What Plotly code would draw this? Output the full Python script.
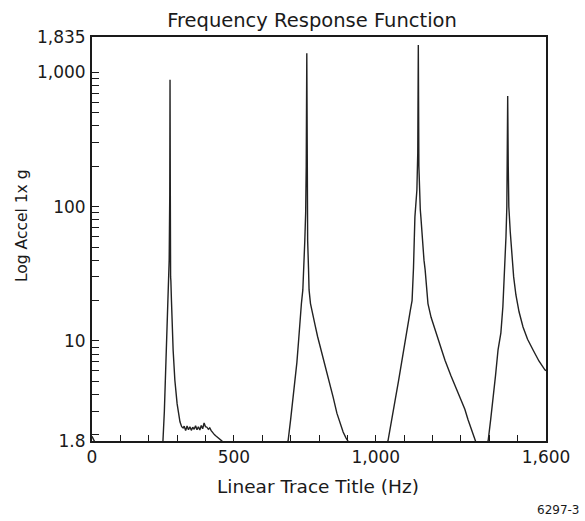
import math
import plotly.graph_objects as go

# ---- data ----
freq_hz = [
    0, 8, 30, 240,
    245, 250, 255, 261, 265, 268, 272, 274, 275, 276, 277, 278, 280, 282, 286, 292, 300, 310, 316, 321,
    325, 330, 335, 340, 345, 350, 355, 360, 365, 370, 375, 380, 385, 390, 395, 400, 405, 410,
    415, 420, 426, 432, 438, 444, 450, 458, 465, 600, 685,
    691, 700, 708, 715, 722, 728, 733, 738, 743, 747, 750, 753, 755, 757, 758.5, 760, 763, 765, 770,
    778, 786, 795, 803, 811, 820, 830, 839, 850, 863, 875, 885, 895, 902, 910, 1035,
    1043, 1055, 1068, 1080, 1092, 1103, 1114, 1122, 1128, 1133, 1138, 1142, 1145, 1148, 1150, 1152,
    1154, 1157, 1159, 1165, 1170, 1174, 1179, 1184, 1195, 1209, 1225, 1244, 1265, 1286, 1300, 1314,
    1325, 1336, 1343, 1350, 1360, 1390,
    1396, 1405, 1413, 1422, 1431, 1441, 1448, 1455, 1459, 1462, 1464, 1465, 1467, 1469, 1474, 1479,
    1486, 1494, 1505, 1519, 1535, 1554, 1575, 1596, 1600,
]
accel_g = [
    1.95, 1.8, 1.6, 1.6,
    1.7, 1.8, 3.0, 7.2, 12, 20, 40, 120, 880, 120, 30, 28, 20, 14, 8.5, 5.1, 3.4, 2.5, 2.3, 2.25,
    2.32, 2.15, 2.33, 2.18, 2.3, 2.16, 2.28, 2.2, 2.34, 2.18, 2.3, 2.17, 2.35, 2.22, 2.45, 2.3, 2.28, 2.2,
    2.25, 2.15, 2.05, 2.0, 1.95, 1.9, 1.85, 1.8, 1.7, 1.5, 1.6,
    1.8, 2.6, 3.6, 5.0, 6.9, 10, 14.3, 19, 24, 35, 56, 90, 200, 1390, 150, 56, 35, 24, 19,
    15.5, 13.2, 10.8, 9.3, 8.1, 6.6, 5.6, 4.7, 3.8, 2.9, 2.4, 2.1, 1.9, 1.8, 1.6, 1.6,
    1.8, 2.6, 3.6, 5.0, 7.2, 10, 14.3, 17, 20, 35, 84, 110, 133, 250, 1600, 200,
    112, 95, 84, 52, 40, 34, 24, 19, 15, 12.1, 9.5, 7.2, 5.5, 4.3, 3.6, 3.1,
    2.6, 2.2, 2.0, 1.8, 1.6, 1.6,
    1.8, 2.6, 3.6, 5.5, 8.6, 11.5, 18, 34, 60, 100, 200, 667, 200, 100, 65, 45,
    30, 22, 16.5, 12.7, 10.3, 8.6, 7.1, 6.1, 6.0,
]

x_tick_vals = list(range(0, 1700, 100))
x_tick_text = ["0", "", "", "", "", "500", "", "", "", "", "1,000", "", "", "", "", "", "1,600"]

y_tick_vals = [1.8, 2, 3, 4, 5, 6, 7, 8, 9,
               10, 20, 30, 40, 50, 60, 70, 80, 90,
               100, 200, 300, 400, 500, 600, 700, 800, 900,
               1000, 1835]
y_tick_text = ["1.8", "", "", "", "", "", "", "", "",
               "10", "", "", "", "", "", "", "", "",
               "100", "", "", "", "", "", "", "", "",
               "1,000", "1,835"]

y_min, y_max = 1.8, 1835
x_min, x_max = 0, 1600

FONT = "DejaVu Sans"
INK = "#1a1a1a"

fig = go.Figure()
fig.add_trace(go.Scatter(
    x=freq_hz, y=accel_g, mode="lines",
    line=dict(color="#222222", width=1.4),
    showlegend=False, hoverinfo="skip",
))

fig.update_layout(
    width=585, height=521,
    margin=dict(l=92, r=39, t=37, b=80, autoexpand=False),
    paper_bgcolor="white", plot_bgcolor="white",
    font=dict(family=FONT, color=INK),
    title=dict(text="Frequency Response Function", font=dict(size=19.5, family=FONT, color=INK),
               x=0.4846, xref="paper", xanchor="center",
               y=1 - 20 / 521, yref="container", yanchor="middle"),
    xaxis=dict(
        range=[x_min, x_max], tickvals=x_tick_vals, ticktext=x_tick_text,
        ticks="inside", ticklen=6, tickwidth=1.3, tickcolor=INK,
        showline=True, linecolor=INK, linewidth=2, mirror=True,
        showgrid=False, zeroline=False, automargin=False,
        tickfont=dict(size=17, family=FONT),
    ),
    yaxis=dict(
        type="log", range=[math.log10(y_min), math.log10(y_max)],
        tickvals=y_tick_vals, ticktext=y_tick_text,
        ticks="inside", ticklen=7, tickwidth=1.3, tickcolor=INK,
        showline=True, linecolor=INK, linewidth=2, mirror=True,
        showgrid=False, zeroline=False, automargin=False,
        tickfont=dict(size=17, family=FONT),
        ticklabelstandoff=1,
    ),
    annotations=[
        dict(text="Linear Trace Title (Hz)", xref="paper", yref="paper",
             x=(317.5 - 92) / 454, y=(441 - 486) / 404, xanchor="center", yanchor="middle",
             showarrow=False, font=dict(size=18.5, family=FONT, color=INK)),
        dict(text="Log Accel 1x g", xref="paper", yref="paper", textangle=-90,
             x=(22 - 92) / 454, y=(441 - 226) / 404, xanchor="center", yanchor="middle",
             showarrow=False, font=dict(size=15.5, family=FONT, color=INK)),
        dict(text="6297-3", xref="paper", yref="paper", x=1.079, y=-0.171,
             xanchor="right", yanchor="middle", showarrow=False,
             font=dict(size=12, family=FONT, color=INK)),
    ],
)

fig.write_html("out.html", config={"displayModeBar": False},
               post_script="document.body.style.margin='0';")
